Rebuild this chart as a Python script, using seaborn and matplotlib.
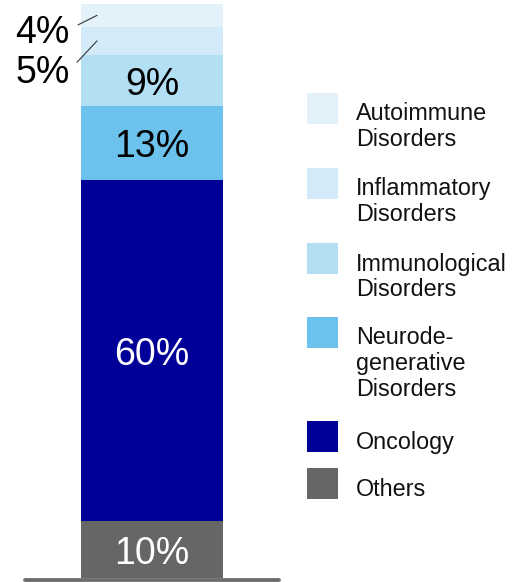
import matplotlib
matplotlib.use("Agg")
import matplotlib.pyplot as plt
from matplotlib.patches import Rectangle
import seaborn as sns

# Pipeline split by therapeutic area (percent), listed from top of the stack down
categories = ["Autoimmune\nDisorders", "Inflammatory\nDisorders", "Immunological\nDisorders",
              "Neurode-\ngenerative\nDisorders", "Oncology", "Others"]
shares = [4, 5, 9, 13, 60, 10]
labels = ["4%", "5%", "9%", "13%", "60%", "10%"]
colors = ["#e3f1fb", "#d3eaf9", "#b3dff4", "#6cc2ed", "#000099", "#666666"]
label_colors = ["black", "black", "black", "black", "white", "white"]
outside = [True, True, False, False, False, False]

sns.set_theme(style="white")
plt.rcParams["font.family"] = ["Liberation Sans", "DejaVu Sans"]

W, H, DPI = 515, 582, 100
fig = plt.figure(figsize=(W / DPI, H / DPI), dpi=DPI)
ax = fig.add_axes([0, 4 / H, 1, 574 / H])

# cumulative tops, bottom segment first
order = list(range(len(shares)))[::-1]
tops, running = {}, 0
for i in order:
    running += shares[i]
    tops[i] = running
total = running

# draw stacked bar: tallest cumulative bar first, each later one covers the lower part
for i in sorted(tops, key=lambda k: -tops[k]):
    sns.barplot(x=["Pipeline"], y=[tops[i]], color=colors[i], saturation=1,
                width=0.8, ax=ax, edgecolor="none", linewidth=0)

px_per_unit = 142 / 0.8
left = -152 / px_per_unit
ax.set_xlim(left, left + W / px_per_unit)
ax.set_ylim(0, total)
ax.axis("off")

# baseline under the bar
ax.axhline(-0.33, xmin=24.7 / W, xmax=279 / W, color="#6b6b6b", lw=2.7,
           clip_on=False, zorder=0)

bar_left = -0.4
label_offsets = {0: -9.5, 1: -20.5}
for i in range(len(shares)):
    mid = tops[i] - shares[i] / 2
    if outside[i]:
        ax.annotate(labels[i], xy=(bar_left + 16 / px_per_unit, mid),
                    xytext=(-19.5, label_offsets[i]), textcoords="offset points",
                    ha="right", va="center_baseline", fontsize=27,
                    color=label_colors[i],
                    arrowprops=dict(arrowstyle="-", color="#333333", lw=0.8,
                                    shrinkA=4, shrinkB=0, relpos=(1, 0.6)))
    else:
        ax.text(0, mid, labels[i], ha="center", va="center_baseline", fontsize=27,
                color=label_colors[i])

# legend drawn as swatches with wrapped labels, one text line at a time
patch_tops = [93, 168, 243, 317, 421, 468]
for i, top in enumerate(patch_tops):
    fig.add_artist(Rectangle((307 / W, 1 - (top + 31) / H), 31 / W, 31 / H,
                             transform=fig.transFigure, facecolor=colors[i],
                             edgecolor="none"))
    for j, line in enumerate(categories[i].split("\n")):
        fig.text(356 / W, 1 - (top + 27.5 + 25.5 * j) / H, line, fontsize=16.8,
                 ha="left", va="baseline", color="#111111")

fig.savefig("out.png", dpi=DPI)
